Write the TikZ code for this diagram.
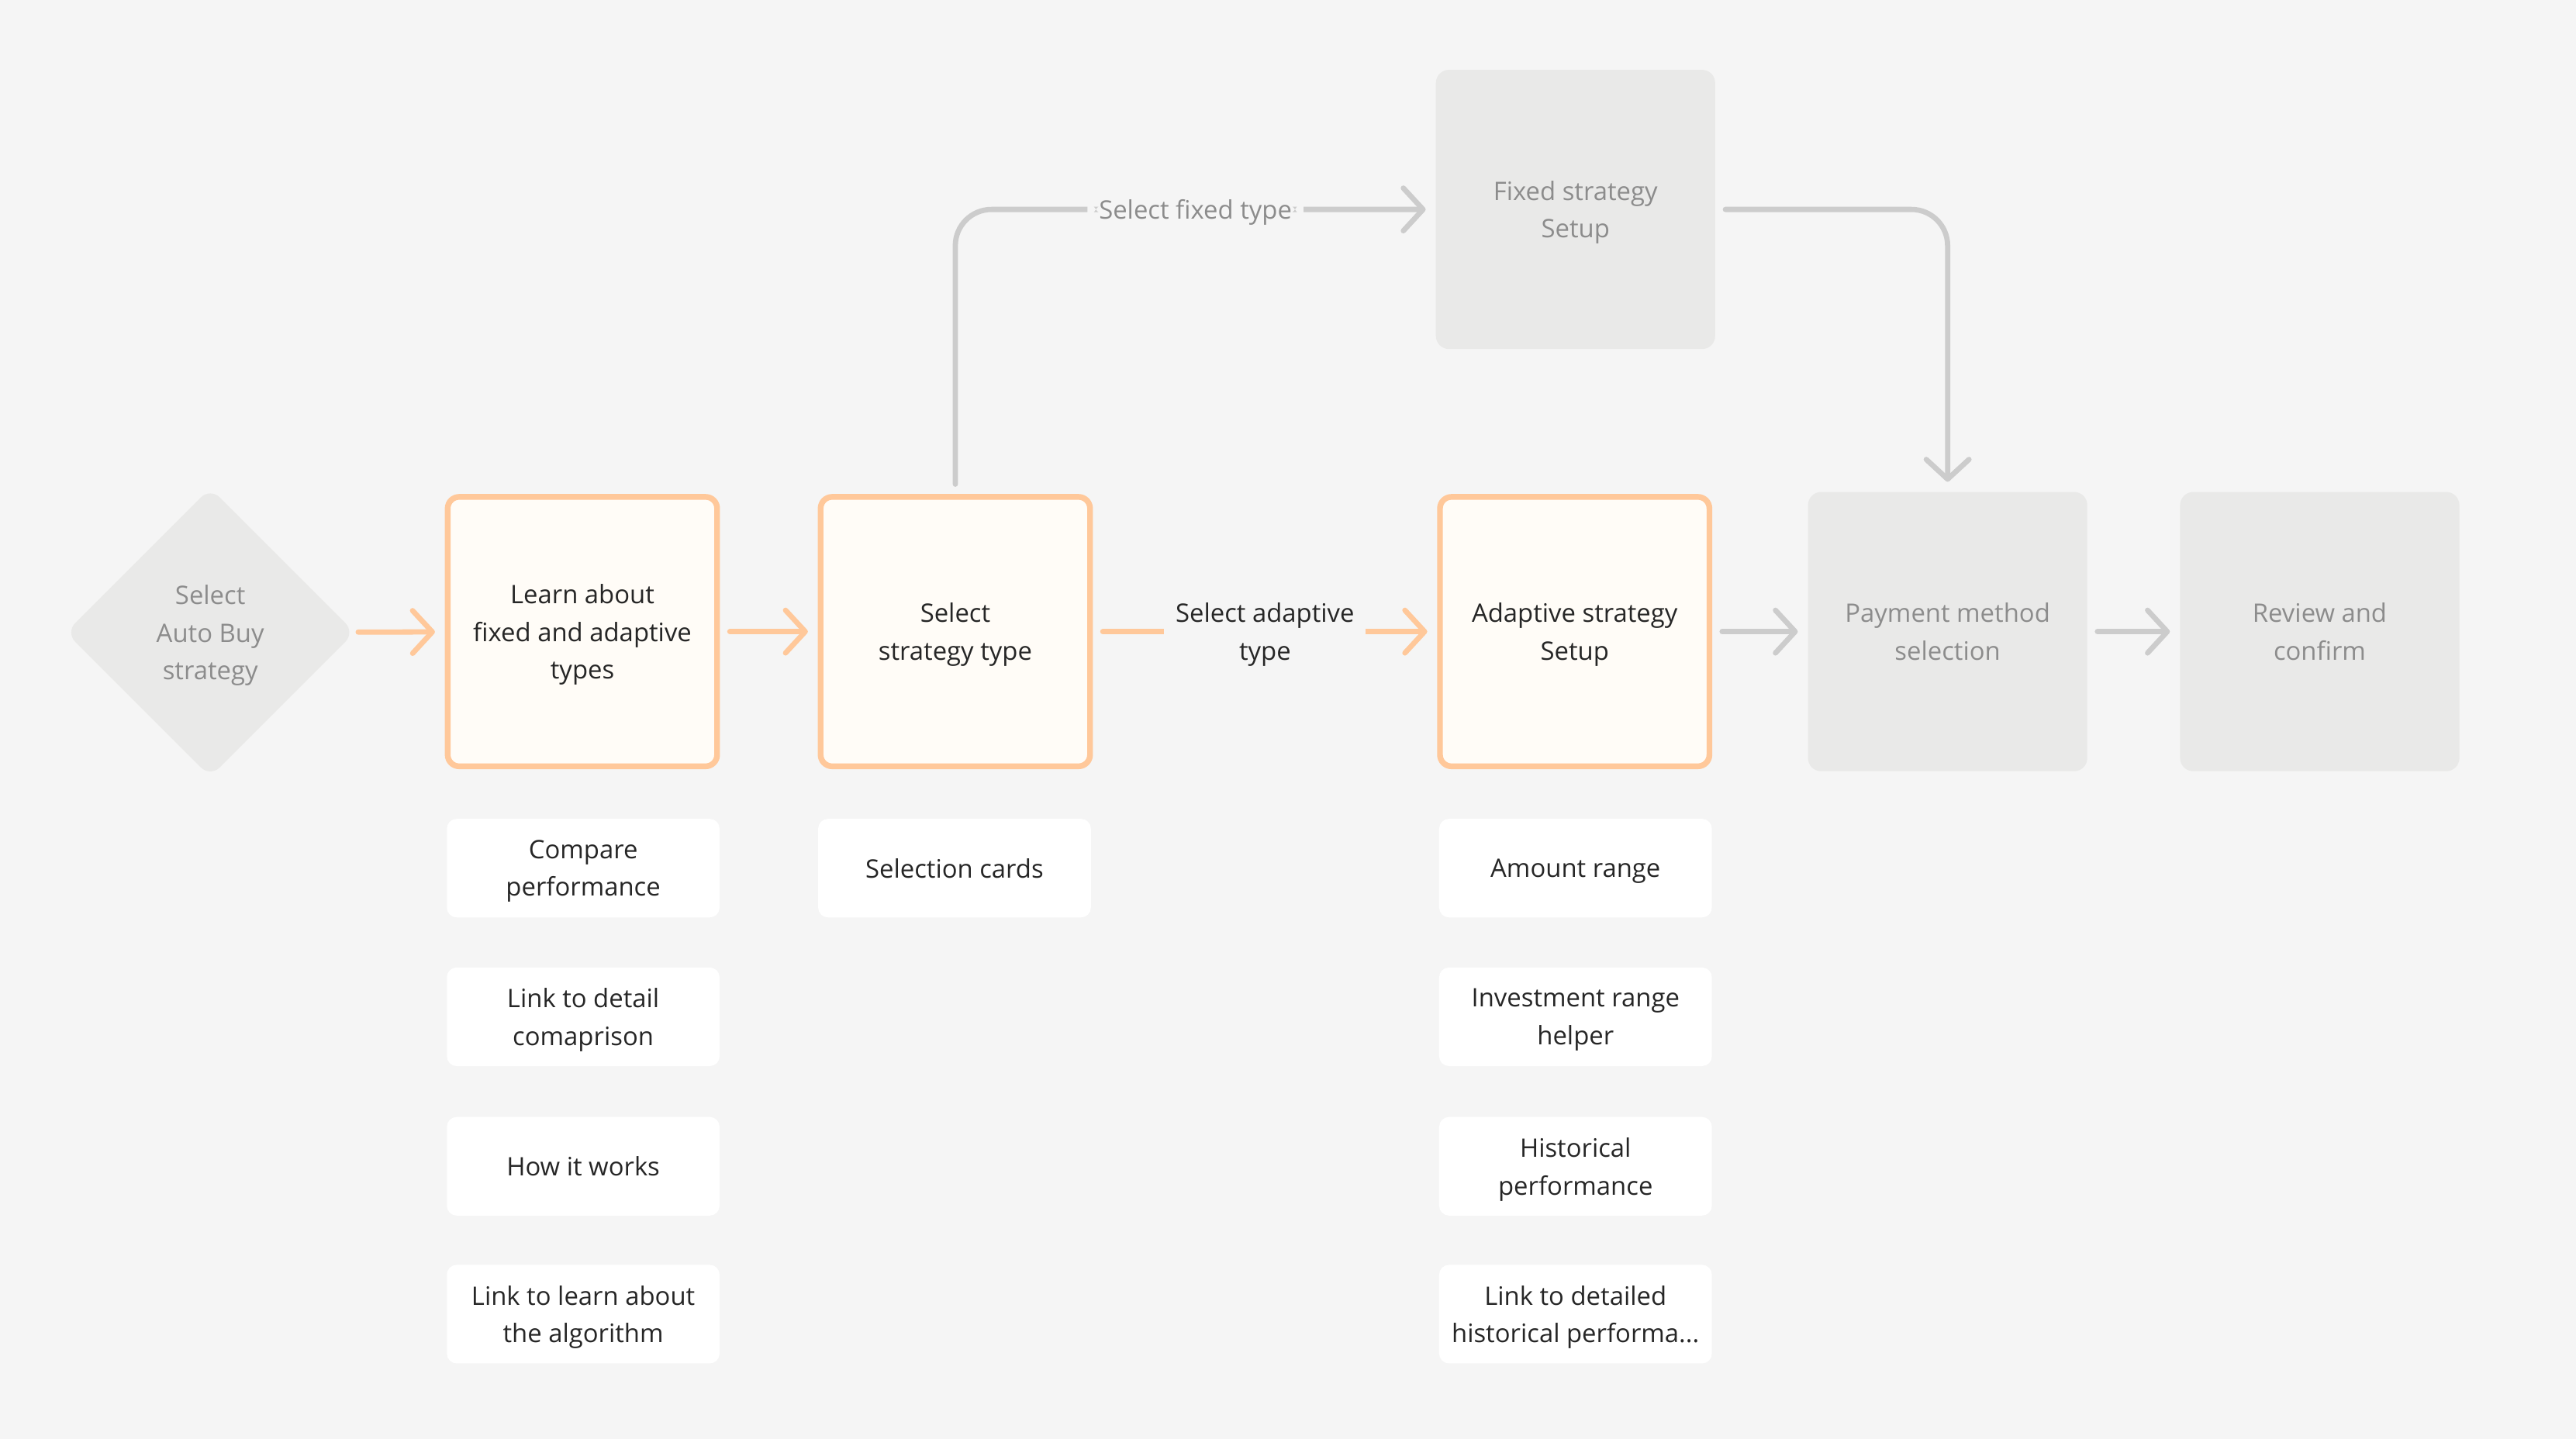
\documentclass[tikz,border=0pt]{standalone}
\usepackage{fontspec}
\setmainfont{Open Sans}
\usepackage{xcolor}
\usepackage{tikz}
\usetikzlibrary{shapes.geometric}
\usetikzlibrary{arrows.meta}

\definecolor{bgcol}{HTML}{F5F5F5}
\definecolor{peach}{HTML}{FFC89A}
\definecolor{cream}{HTML}{FFFCF7}
\definecolor{greybox}{HTML}{E9E9E8}
\definecolor{greytext}{HTML}{8C8C8C}
\definecolor{darktext}{HTML}{262626}
\definecolor{greyline}{HTML}{CCCCCC}

\tikzset{
    txt/.style = {font=\fontsize{15.5}{23}\selectfont, align=center, text depth=-1.5pt},
    active/.style = {txt, draw=peach, line width=3.5pt, fill=cream, text=darktext,
        rounded corners=7pt, minimum width=164pt, minimum height=164pt},
    inactive/.style = {txt, fill=greybox, text=greytext, rounded corners=8pt,
        minimum width=170pt, minimum height=170pt},
    item/.style = {txt, fill=white, text=darktext, rounded corners=6pt,
        minimum width=166pt, minimum height=60pt},
    lbl/.style = {txt, fill=bgcol, inner xsep=7pt, inner ysep=2pt},
    flow/.style = {line width=3.2pt, line cap=round,
        -{Straight Barb[length=12pt, width=26pt, round]},
        shorten <=6pt, shorten >=6pt}
}

\begin{document}
\begin{tikzpicture}[x=1pt, y=-1pt]
        \path[use as bounding box, fill=bgcol] (0, 0) rectangle (1568, 876);

        \node[inactive, diamond, minimum width=176pt, minimum height=176pt, inner sep=0pt]
            (start) at (128, 385) {Select\\Auto Buy\\strategy};
        \node[active] (learn) at (354.5, 384.5) {Learn about\\fixed and adaptive\\types};
        \node[active] (choose) at (581.5, 384.5) {Select\\strategy type};
        \node[active] (adaptive) at (958.5, 384.5) {Adaptive strategy\\Setup};
        \node[inactive] (fixed) at (959, 127.5) {Fixed strategy\\Setup};
        \node[inactive] (payment) at (1185.5, 384.5) {Payment method\\selection};
        \node[inactive] (review) at (1412, 384.5) {Review and\\confirm};

        \node[item] (compare) at (355, 528.5) {Compare\\performance};
        \node[item] (detail) at (355, 619) {Link to detail\\comaprison};
        \node[item] (works) at (355, 710) {How it works};
        \node[item] (algo) at (355, 800) {Link to learn about\\the algorithm};

        \node[item] (cards) at (581, 528.5) {Selection cards};

        \node[item] (amount) at (959, 528.5) {Amount range};
        \node[item] (invest) at (959, 619) {Investment range\\helper};
        \node[item] (hist) at (959, 710) {Historical\\performance};
        \node[item] (histlink) at (959, 800) {Link to detailed\\historical performa...};

        \draw[flow, draw=peach, shorten <=2pt] (start) -- (learn);
        \draw[flow, draw=peach] (learn) -- (choose);
        \draw[flow, draw=peach] (choose) -- node[lbl, text=darktext] {Select adaptive\\type} (adaptive);
        \draw[flow, draw=greyline] (adaptive) -- (payment);
        \draw[flow, draw=greyline] (payment) -- (review);

        \draw[flow, draw=greyline, rounded corners=22pt] (choose.north)
            |- node[pos=0.75, lbl, text=greytext] {Select fixed type} (fixed.west);
        \draw[flow, draw=greyline, rounded corners=22pt] (fixed.east) -| (payment.north);
\end{tikzpicture}
\end{document}
